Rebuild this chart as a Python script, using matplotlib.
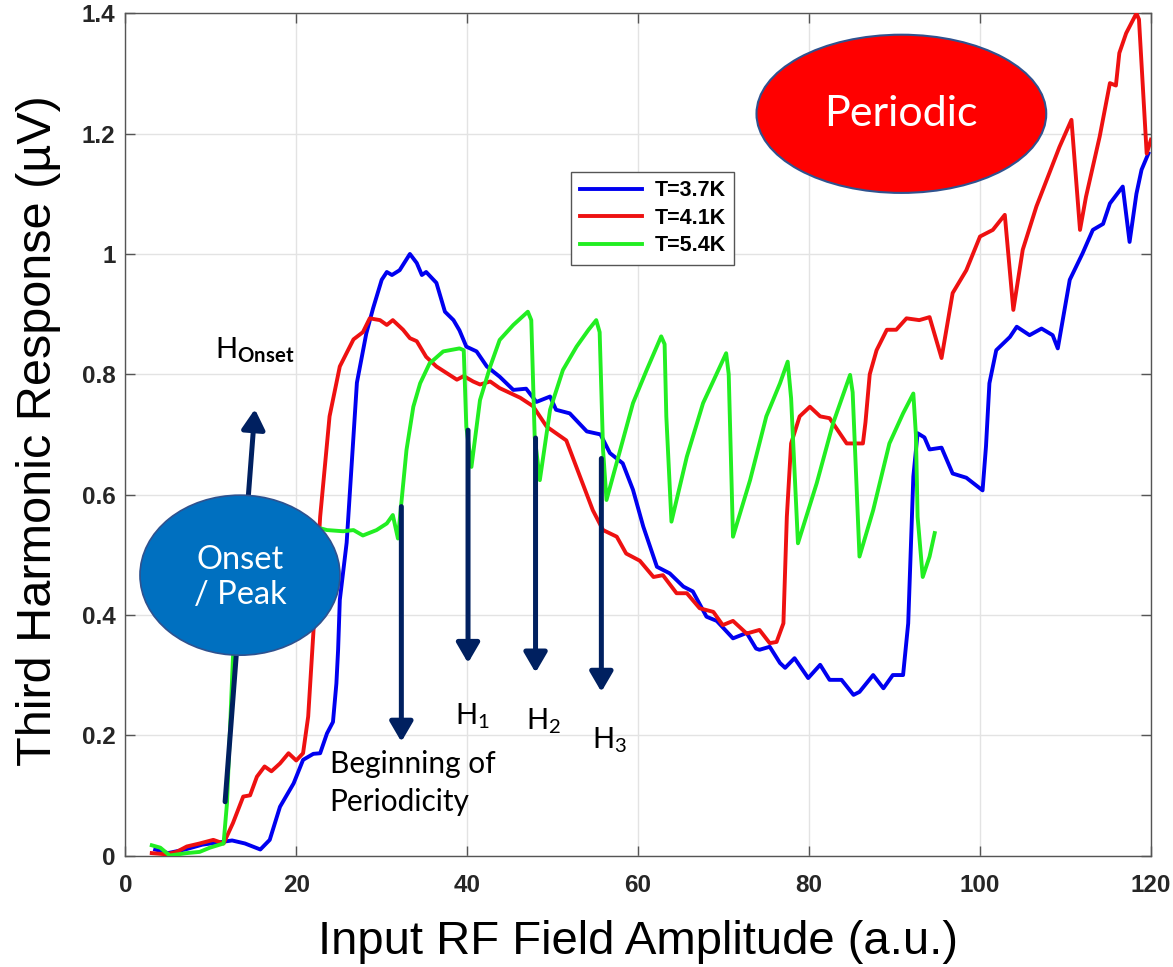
import matplotlib.pyplot as plt
from matplotlib.patches import Ellipse

# mathtext in the same face as the annotations (for the subscripts)
plt.rcParams['mathtext.fontset'] = 'custom'
plt.rcParams['mathtext.rm'] = 'Lato'
plt.rcParams['mathtext.bf'] = 'Lato:bold'
plt.rcParams['mathtext.it'] = 'Lato:italic'

# T = 3.7 K
x_37 = [3.5, 5, 7, 9, 11, 12.5, 14, 15.8, 16.9, 18.1, 19.7, 20.8, 22.0, 22.8, 23.6, 24.3,
        24.7, 24.9, 25.1, 25.9, 27.1, 28.2, 29.0, 30.0, 30.6, 31.2, 32.1, 33.3, 34.1, 34.7,
        35.2, 36.4, 37.4, 38.4, 39.1, 39.9, 41.1, 42.3, 43.8, 45.4, 46.9, 48.1, 49.7, 50.4,
        52.0, 54.0, 55.6, 56.7, 58.2, 59.4, 60.6, 62.2, 63.7, 65.3, 66.4, 68.0, 69.2, 71.1,
        72.7, 73.8, 74.2, 75.4, 76.6, 77.2, 78.3, 79.9, 81.3, 82.4, 83.8, 85.2, 85.9, 87.5,
        88.7, 89.8, 91.0, 91.6, 92.2, 92.7, 93.5, 94.1, 95.5, 96.8, 98.4, 100.3, 100.7, 101.1,
        101.9, 103.5, 104.3, 105.8, 107.2, 108.5, 109.1, 110.5, 112.0, 113.2, 114.4, 115.2,
        116.7, 117.5, 118.3, 118.9, 119.7]
y_37 = [0.01, 0.004, 0.01, 0.018, 0.022, 0.025, 0.02, 0.01, 0.026, 0.081, 0.12, 0.159, 0.169,
        0.17, 0.203, 0.222, 0.286, 0.342, 0.425, 0.52, 0.786, 0.868, 0.91, 0.957, 0.97, 0.965,
        0.973, 1.0, 0.985, 0.965, 0.97, 0.952, 0.904, 0.89, 0.873, 0.846, 0.838, 0.813, 0.796,
        0.774, 0.776, 0.754, 0.763, 0.741, 0.735, 0.705, 0.70, 0.669, 0.652, 0.608, 0.547, 0.48,
        0.469, 0.447, 0.439, 0.397, 0.39, 0.361, 0.37, 0.344, 0.342, 0.347, 0.32, 0.312, 0.328,
        0.295, 0.317, 0.292, 0.292, 0.267, 0.272, 0.30, 0.278, 0.30, 0.30, 0.386, 0.63, 0.702,
        0.695, 0.675, 0.678, 0.635, 0.628, 0.607, 0.68, 0.785, 0.84, 0.862, 0.879, 0.865, 0.876,
        0.865, 0.843, 0.957, 1.001, 1.04, 1.05, 1.084, 1.112, 1.02, 1.1, 1.14, 1.167]

# T = 4.1 K
x_41 = [3.1, 4.8, 6.0, 7.2, 8.7, 10.3, 11.5, 12.6, 13.8, 14.6, 15.4, 16.3, 17.1, 18.1, 19.1,
        20.0, 20.8, 21.4, 22.0, 22.8, 23.9, 25.1, 26.7, 27.8, 28.6, 29.8, 30.6, 31.3, 32.5,
        33.3, 34.1, 35.2, 36.4, 37.6, 38.8, 39.6, 40.7, 41.5, 42.7, 43.8, 45.0, 46.2, 47.7,
        49.3, 50.4, 51.6, 53.2, 54.7, 55.9, 57.5, 58.6, 60.2, 61.8, 62.9, 64.5, 65.7, 67.2,
        68.8, 69.9, 71.1, 72.7, 74.2, 75.4, 76.2, 77.0, 77.4, 77.9, 78.9, 80.1, 81.3, 82.4,
        84.4, 86.3, 86.6, 87.1, 87.9, 89.1, 90.2, 91.4, 92.9, 94.1, 95.5, 96.8, 98.4, 100.0,
        101.5, 102.9, 103.9, 105.0, 106.6, 107.8, 109.3, 110.7, 111.7, 112.4, 114.0, 115.2,
        115.9, 116.3, 117.1, 118.3, 118.6, 119.5, 120.0]
y_41 = [0.004, 0.002, 0.006, 0.015, 0.02, 0.026, 0.02, 0.054, 0.098, 0.10, 0.131, 0.148, 0.14,
        0.153, 0.17, 0.158, 0.17, 0.231, 0.369, 0.563, 0.73, 0.813, 0.858, 0.87, 0.893, 0.89,
        0.882, 0.89, 0.874, 0.86, 0.855, 0.829, 0.813, 0.802, 0.791, 0.797, 0.788, 0.783, 0.788,
        0.777, 0.769, 0.761, 0.747, 0.713, 0.702, 0.69, 0.63, 0.574, 0.541, 0.53, 0.502, 0.49,
        0.463, 0.466, 0.436, 0.436, 0.411, 0.405, 0.383, 0.39, 0.369, 0.375, 0.353, 0.355,
        0.386, 0.563, 0.685, 0.73, 0.746, 0.73, 0.727, 0.685, 0.685, 0.72, 0.80, 0.84, 0.874,
        0.874, 0.893, 0.89, 0.895, 0.827, 0.935, 0.973, 1.029, 1.04, 1.065, 0.907, 1.007, 1.079,
        1.123, 1.178, 1.223, 1.04, 1.095, 1.195, 1.284, 1.28, 1.334, 1.367, 1.40, 1.39, 1.167,
        1.19]

# T = 5.4 K
x_54 = [3.1, 4.1, 5.2, 7.2, 8.7, 9.9, 11.5, 11.9, 12.6, 13.5, 15, 18, 20.5, 22.8, 23.6, 25.5,
        26.7, 27.8, 29.4, 30.6, 31.3, 31.9, 32.3, 32.9, 33.7, 34.5, 35.6, 37.2, 39.1, 39.6,
        39.9, 40.5, 41.5, 42.7, 43.8, 45.4, 47.1, 47.5, 47.9, 48.5, 49.7, 51.2, 52.8, 54.2,
        55.1, 55.5, 55.9, 56.3, 57.9, 59.4, 61.0, 62.7, 63.1, 63.3, 63.9, 65.7, 67.6, 70.3,
        70.6, 71.1, 73.1, 75.0, 76.6, 77.5, 77.9, 78.7, 80.9, 82.8, 84.8, 85.1, 85.9, 87.5,
        89.4, 91.0, 92.2, 92.5, 92.7, 93.3, 94.1, 94.7]
y_54 = [0.017, 0.013, 0.0, 0.004, 0.006, 0.013, 0.02, 0.087, 0.33, 0.50, 0.54, 0.545, 0.54,
        0.544, 0.541, 0.539, 0.541, 0.532, 0.541, 0.552, 0.566, 0.527, 0.586, 0.674, 0.746,
        0.785, 0.818, 0.838, 0.843, 0.84, 0.713, 0.646, 0.757, 0.813, 0.857, 0.882, 0.904,
        0.89, 0.696, 0.624, 0.741, 0.807, 0.846, 0.874, 0.89, 0.87, 0.674, 0.591, 0.674, 0.752,
        0.807, 0.863, 0.85, 0.73, 0.555, 0.663, 0.752, 0.835, 0.80, 0.53, 0.624, 0.73, 0.785,
        0.821, 0.76, 0.519, 0.619, 0.718, 0.799, 0.77, 0.497, 0.574, 0.685, 0.735, 0.768, 0.70,
        0.563, 0.463, 0.497, 0.536]

labels = ['T=3.7K', 'T=4.1K', 'T=5.4K']
colors = ['#0000f0', '#ee1111', '#22ee22']

# down arrows: (x, start, tip) and their labels
down_x = [32.3, 40.1, 48.0, 55.7]
down_top = [0.58, 0.707, 0.694, 0.66]
down_tip = [0.189, 0.32, 0.304, 0.272]
h_labels = [r'H$_1$', r'H$_2$', r'H$_3$']
h_pos = [(38.6, 0.217), (46.9, 0.209), (54.6, 0.178)]

navy = '#002060'
ann_font = 'Lato'

fig = plt.figure(figsize=(11.73, 9.67), dpi=100)
ax = fig.add_axes([0.1068, 0.1153, 0.8744, 0.8709])

for xs, ys, lab, c in zip([x_37, x_41, x_54], [y_37, y_41, y_54], labels, colors):
    ax.plot(xs, ys, color=c, lw=2.8, label=lab, zorder=3)

ax.set_xlim(0, 120)
ax.set_ylim(0, 1.4)
ax.set_xticks(range(0, 121, 20))
ax.set_yticks([0, 0.2, 0.4, 0.6, 0.8, 1.0, 1.2, 1.4])
ax.set_yticklabels(['0', '0.2', '0.4', '0.6', '0.8', '1', '1.2', '1.4'])
ax.grid(True, color='#e3e3e3', lw=1.0, zorder=0)
ax.set_axisbelow(True)
ax.tick_params(direction='in', length=7, width=1, color='#555555', top=True, right=True,
               labelcolor='#262626')
ax.tick_params(axis='x', pad=13)
ax.tick_params(axis='y', pad=7)
for lab in ax.get_xticklabels() + ax.get_yticklabels():
    lab.set_fontfamily('Liberation Sans')
    lab.set_fontweight('bold')
    lab.set_fontsize(17.5)
for s in ax.spines.values():
    s.set_color('#555555')
    s.set_linewidth(1.0)

ax.set_xlabel('Input RF Field Amplitude (a.u.)', family='Liberation Sans', fontsize=34,
              labelpad=17)
ax.set_ylabel('Third Harmonic Response (µV)', family='Liberation Sans', fontsize=35)
ax.yaxis.set_label_coords(-0.063, 0.505)

leg = ax.legend(loc='upper left', bbox_to_anchor=(0.435, 0.812), borderaxespad=0,
                prop={'family': 'Liberation Sans', 'weight': 'bold', 'size': 15.5},
                handlelength=2.9, handletextpad=0.55, labelspacing=0.3, borderpad=0.4,
                fancybox=False, framealpha=1)
leg.get_frame().set_edgecolor('#555555')
leg.get_frame().set_linewidth(1.0)
leg.set_zorder(10)

# up arrow (onset)
ax.annotate('', xy=(15.17, 0.742), xytext=(11.68, 0.0894),
            arrowprops=dict(arrowstyle='-|>,head_length=0.6,head_width=0.35', lw=3.6,
                            color=navy, shrinkA=0, shrinkB=0, mutation_scale=20), zorder=4)
# down arrows
for xd, yt, yb in zip(down_x, down_top, down_tip):
    ax.annotate('', xy=(xd, yb), xytext=(xd, yt),
                arrowprops=dict(arrowstyle='-|>,head_length=0.6,head_width=0.35', lw=3.6,
                                color=navy, shrinkA=0, shrinkB=0, mutation_scale=20),
                zorder=4)

# ellipses
ax.add_patch(Ellipse((13.42, 0.466), 23.4, 0.266, facecolor='#0070c0', edgecolor='#2f528f',
                     lw=1.2, zorder=5))
ax.text(13.42, 0.462, 'Onset\n/ Peak', color='white', family=ann_font, fontsize=23.5,
        ha='center', va='center', linespacing=1.2, zorder=6)
ax.add_patch(Ellipse((90.8, 1.233), 33.9, 0.263, facecolor='#ff0000', edgecolor='#2f528f',
                     lw=1.5, zorder=5))
ax.text(90.8, 1.233, 'Periodic', color='white', family=ann_font, fontsize=31,
        ha='center', va='center', zorder=6)

# text labels
ax.text(10.5, 0.827, r'H$_{\mathbf{Onset}}$', family=ann_font, fontsize=21, va='baseline',
        zorder=6)
for lab, (xt, yt) in zip(h_labels, h_pos):
    ax.text(xt, yt, lab, family=ann_font, fontsize=21, va='baseline', zorder=6)
ax.text(23.9, 0.176, 'Beginning of\nPeriodicity', family=ann_font, fontsize=21.5, va='top',
        linespacing=1.45, zorder=6)

fig.savefig('out.png', dpi=100)
